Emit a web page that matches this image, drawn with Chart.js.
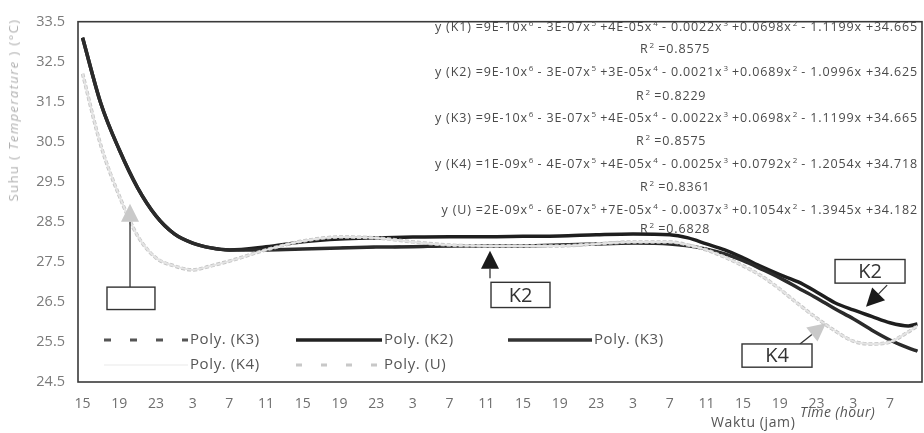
<!DOCTYPE html>
<html>
<head>
<meta charset="utf-8">
<script src="https://cdn.jsdelivr.net/npm/chart.js@4/dist/chart.umd.min.js"></script>
<style>
  html, body { margin: 0; padding: 0; background: #fff; }
  #wrap { position: relative; width: 924px; height: 433px; overflow: hidden;
          font-family: "Open Sans", "DejaVu Sans", sans-serif; }
  #chart { position: absolute; left: 0; top: 0; }
  .eq { position: absolute; white-space: nowrap; font-size: 12.5px; letter-spacing: 0.85px; color: #4a4a4a; line-height: 14px; }
  .eq sup { font-size: 8px; vertical-align: 5px; line-height: 0; letter-spacing: 0; margin-left: 1px; }
  .leg { position: absolute; white-space: nowrap; font-size: 15px; letter-spacing: 0.6px; color: #555; line-height: 18px; }
  .leg svg { vertical-align: middle; margin-right: 2px; }
  #ytitle { position: absolute; left: 13px; top: 110px; transform: translate(-50%, -50%) rotate(-90deg);
            white-space: nowrap; font-size: 13px; letter-spacing: 1.4px; color: #b0b0b0; }
  #xtitle1 { position: absolute; left: 711px; top: 412px; font-size: 14px; letter-spacing: 0.6px; color: #555; }
  #xtitle2 { position: absolute; left: 800px; top: 402px; font-size: 14px; letter-spacing: 0.4px; color: #555; font-style: italic; }
</style>
</head>
<body>
<div id="wrap">
  <canvas id="chart" width="924" height="433"></canvas>

  <div class="eq" style="right:6px; top:20px;">y (K1) =9E-10x<sup>6</sup> - 3E-07x<sup>5</sup> +4E-05x<sup>4</sup> - 0.0022x<sup>3</sup> +0.0698x<sup>2</sup> - 1.1199x +34.665</div>
  <div class="eq" style="left:640px; top:42px;">R<sup>2</sup> =0.8575</div>
  <div class="eq" style="right:6px; top:65px;">y (K2) =9E-10x<sup>6</sup> - 3E-07x<sup>5</sup> +3E-05x<sup>4</sup> - 0.0021x<sup>3</sup> +0.0689x<sup>2</sup> - 1.0996x +34.625</div>
  <div class="eq" style="left:636px; top:89px;">R<sup>2</sup> =0.8229</div>
  <div class="eq" style="right:6px; top:111px;">y (K3) =9E-10x<sup>6</sup> - 3E-07x<sup>5</sup> +4E-05x<sup>4</sup> - 0.0022x<sup>3</sup> +0.0698x<sup>2</sup> - 1.1199x +34.665</div>
  <div class="eq" style="left:636px; top:134px;">R<sup>2</sup> =0.8575</div>
  <div class="eq" style="right:6px; top:157px;">y (K4) =1E-09x<sup>6</sup> - 4E-07x<sup>5</sup> +4E-05x<sup>4</sup> - 0.0025x<sup>3</sup> +0.0792x<sup>2</sup> - 1.2054x +34.718</div>
  <div class="eq" style="left:640px; top:180px;">R<sup>2</sup> =0.8361</div>
  <div class="eq" style="right:6px; top:203px;">y (U) =2E-09x<sup>6</sup> - 6E-07x<sup>5</sup> +7E-05x<sup>4</sup> - 0.0037x<sup>3</sup> +0.1054x<sup>2</sup> - 1.3945x +34.182</div>
  <div class="eq" style="left:640px; top:222px;">R<sup>2</sup> =0.6828</div>

  <div class="leg" style="left:104px; top:329px;"><svg width="84" height="6"><line x1="0" y1="3" x2="84" y2="3" stroke="#555" stroke-width="3" stroke-dasharray="7,19"/></svg>Poly. (K3)</div>
  <div class="leg" style="left:296px; top:329px;"><svg width="86" height="6"><line x1="0" y1="3" x2="86" y2="3" stroke="#222" stroke-width="3.5"/></svg>Poly. (K2)</div>
  <div class="leg" style="left:508px; top:329px;"><svg width="84" height="6"><line x1="0" y1="3" x2="84" y2="3" stroke="#333" stroke-width="3.5"/></svg>Poly. (K3)</div>
  <div class="leg" style="left:104px; top:354px;"><svg width="84" height="6"><line x1="0" y1="3" x2="84" y2="3" stroke="#f4f4f4" stroke-width="2"/></svg>Poly. (K4)</div>
  <div class="leg" style="left:296px; top:354px;"><svg width="86" height="6"><line x1="0" y1="3" x2="86" y2="3" stroke="#c8c8c8" stroke-width="3" stroke-dasharray="6,19"/></svg>Poly. (U)</div>

  <div id="ytitle">Suhu ( <i>Temperature</i> ) (°C)</div>
  <div id="xtitle1">Waktu (jam)</div>
  <div id="xtitle2">Time (hour)</div>
</div>

<script>
// Hour index from the first reading (15:00), and the clock labels shown every 4 hours
const xTickLabels = ['15','19','23','3','7','11','15','19','23','3','7','11',
                     '15','19','23','3','7','11','15','19','23','3','7'];
const hoursPerTick = 4;

const hours = [0, 2, 4, 6, 8, 10, 12, 14, 16,
               20, 24, 28, 32, 36, 40, 44, 48, 52, 56, 60, 64,
               66, 68, 70, 72, 74, 76, 78, 80, 82, 84, 86, 88, 90, 91];

// Polynomial trend temperatures (°C)
const polyK1 = [33.1, 31.45, 30.3, 29.35, 28.65, 28.2, 27.97, 27.85, 27.8,
                27.8, 27.82, 27.85, 27.87, 27.88, 27.9, 27.9, 27.9, 27.92, 27.95, 27.97, 27.95,
                27.9, 27.82, 27.7, 27.53, 27.32, 27.1, 26.85, 26.6, 26.33, 26.08, 25.8, 25.55, 25.35, 25.27];
const polyK2 = [33.1, 31.45, 30.3, 29.35, 28.65, 28.2, 27.97, 27.85, 27.8,
                27.88, 28.0, 28.07, 28.1, 28.12, 28.13, 28.13, 28.14, 28.15, 28.18, 28.2, 28.18,
                28.1, 27.95, 27.8, 27.6, 27.38, 27.18, 27.0, 26.75, 26.48, 26.3, 26.14, 25.98, 25.9, 25.95];
const polyK3 = [33.1, 31.45, 30.3, 29.35, 28.65, 28.2, 27.97, 27.85, 27.8,
                27.8, 27.82, 27.85, 27.87, 27.88, 27.9, 27.9, 27.9, 27.92, 27.95, 27.97, 27.95,
                27.9, 27.82, 27.7, 27.53, 27.32, 27.1, 26.85, 26.6, 26.33, 26.08, 25.8, 25.55, 25.35, 25.27];
const polyK4 = [32.2, 30.4, 29.15, 28.15, 27.6, 27.4, 27.3, 27.4, 27.52,
                27.8, 28.02, 28.12, 28.1, 28.0, 27.92, 27.9, 27.9, 27.9, 27.95, 28.0, 28.0,
                27.92, 27.8, 27.62, 27.4, 27.15, 26.82, 26.45, 26.1, 25.78, 25.52, 25.45, 25.5, 25.75, 25.9];
const polyU  = [32.2, 30.4, 29.15, 28.15, 27.6, 27.4, 27.3, 27.4, 27.52,
                27.8, 28.02, 28.12, 28.1, 28.0, 27.92, 27.9, 27.9, 27.9, 27.95, 28.0, 28.0,
                27.92, 27.8, 27.62, 27.4, 27.15, 26.82, 26.45, 26.1, 25.78, 25.52, 25.45, 25.5, 25.75, 25.9];

// Callout boxes and arrows, in axis units (hour, °C)
const callouts = [
  { text: '',   box: [2.66, 26.87, 7.89, 26.31], from: [5.17, 26.87], to: [5.17, 28.95], head: 'grey' },
  { text: 'K2', box: [44.52, 26.99, 50.95, 26.36], from: [44.41, 27.09], to: [44.41, 27.78], head: 'black' },
  { text: 'K2', box: [82.02, 27.56, 89.65, 26.97], from: [87.7, 26.92], to: [85.4, 26.38], head: 'black' },
  { text: 'K4', box: [71.88, 25.45, 79.51, 24.87], from: [78.2, 25.45], to: [81.03, 25.97], head: 'grey' }
];

const pts = vals => hours.map((h, i) => ({ x: h, y: vals[i] }));

const framePlugin = {
  id: 'frame',
  afterDraw(chart) {
    const { ctx, chartArea: a } = chart;
    ctx.save();
    ctx.strokeStyle = '#3a3a3a';
    ctx.lineWidth = 1.6;
    ctx.strokeRect(a.left, a.top, a.right - a.left, a.bottom - a.top);
    ctx.restore();
  }
};

const calloutPlugin = {
  id: 'callouts',
  afterDatasetsDraw(chart) {
    const { ctx, scales: { x, y } } = chart;
    ctx.save();
    callouts.forEach(c => {
      const x0 = x.getPixelForValue(c.box[0]), y0 = y.getPixelForValue(c.box[1]);
      const x1 = x.getPixelForValue(c.box[2]), y1 = y.getPixelForValue(c.box[3]);
      const fx = x.getPixelForValue(c.from[0]), fy = y.getPixelForValue(c.from[1]);
      const tx = x.getPixelForValue(c.to[0]), ty = y.getPixelForValue(c.to[1]);
      const ang = Math.atan2(ty - fy, tx - fx);
      const len = 18, half = 9;
      const bx = tx - Math.cos(ang) * len, by = ty - Math.sin(ang) * len;
      // shaft
      ctx.strokeStyle = '#333';
      ctx.lineWidth = 1.3;
      ctx.beginPath();
      ctx.moveTo(fx, fy);
      ctx.lineTo(bx, by);
      ctx.stroke();
      // head
      ctx.fillStyle = c.head === 'black' ? '#1a1a1a' : '#c9c9c9';
      ctx.beginPath();
      ctx.moveTo(tx, ty);
      ctx.lineTo(bx + Math.sin(ang) * half, by - Math.cos(ang) * half);
      ctx.lineTo(bx - Math.sin(ang) * half, by + Math.cos(ang) * half);
      ctx.closePath();
      ctx.fill();
      // box
      ctx.fillStyle = '#fff';
      ctx.fillRect(x0, y0, x1 - x0, y1 - y0);
      ctx.strokeStyle = '#333';
      ctx.lineWidth = 1.4;
      ctx.strokeRect(x0, y0, x1 - x0, y1 - y0);
      if (c.text) {
        ctx.fillStyle = '#333';
        ctx.font = '20px "Open Sans", "DejaVu Sans", sans-serif';
        ctx.textAlign = 'center';
        ctx.textBaseline = 'middle';
        ctx.fillText(c.text, (x0 + x1) / 2, (y0 + y1) / 2 + 1);
      }
    });
    ctx.restore();
  }
};

const tickFont = { family: '"Open Sans", "DejaVu Sans", sans-serif', size: 14 };

new Chart(document.getElementById('chart'), {
  type: 'line',
  data: {
    datasets: [
      { label: 'Poly. (K4)', data: pts(polyK4), borderColor: '#e4e4e4', borderWidth: 2 },
      { label: 'Poly. (U)',  data: pts(polyU),  borderColor: '#c2c2c2', borderWidth: 3.5, borderDash: [4, 2] },
      { label: 'Poly. (K3)', data: pts(polyK3), borderColor: '#2b2b2b', borderWidth: 3.5 },
      { label: 'Poly. (K2)', data: pts(polyK2), borderColor: '#1e1e1e', borderWidth: 3.5 },
      { label: 'Poly. (K3)', data: pts(polyK1), borderColor: '#4a4a4a', borderWidth: 2.5, borderDash: [7, 19] }
    ]
  },
  options: {
    responsive: false,
    animation: false,
    events: [],
    elements: { point: { radius: 0 }, line: { cubicInterpolationMode: 'monotone', fill: false } },
    layout: { padding: { top: 14, right: 2, left: 0, bottom: 0 } },
    plugins: { legend: { display: false }, tooltip: { enabled: false } },
    scales: {
      x: {
        type: 'linear', min: -0.5, max: 91.5,
        grid: { display: false, drawTicks: false },
        border: { display: false },
        afterBuildTicks: s => { s.ticks = xTickLabels.map((_, i) => ({ value: i * hoursPerTick })); },
        ticks: {
          autoSkip: false, maxRotation: 0, padding: 14, color: '#6e6e6e', font: tickFont,
          callback: v => xTickLabels[Math.round(v / hoursPerTick)]
        },
        afterFit: s => { s.height = 51; }
      },
      y: {
        min: 24.5, max: 33.5,
        grid: { display: false, drawTicks: false },
        border: { display: false },
        ticks: { stepSize: 1, padding: 13, color: '#7a7a7a', font: { ...tickFont, size: 14.5 },
                 callback: v => v.toFixed(1) },
        afterFit: s => { s.width = 78; }
      }
    }
  },
  plugins: [framePlugin, calloutPlugin]
});
</script>
</body>
</html>
